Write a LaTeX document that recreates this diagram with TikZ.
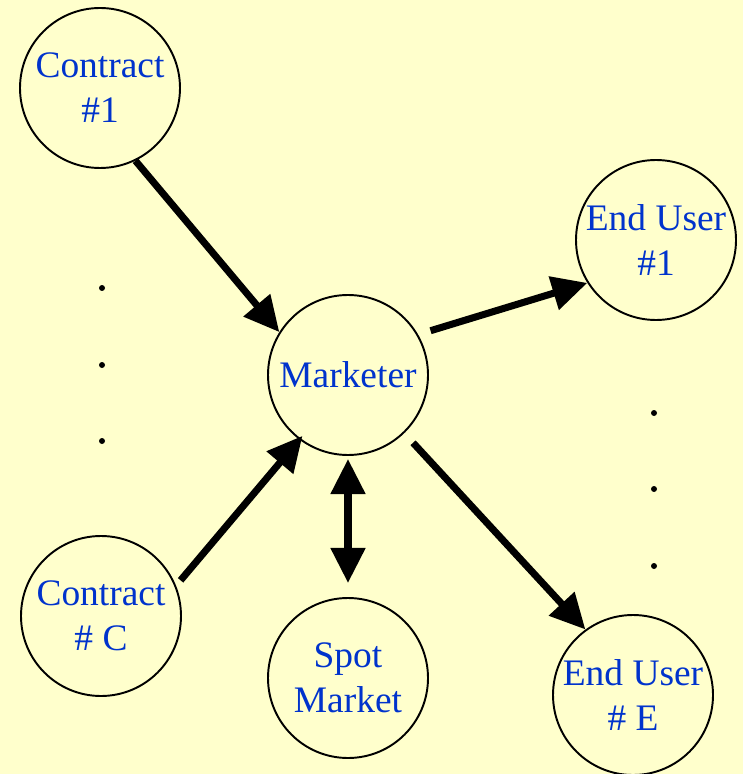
\documentclass[tikz,border=0pt]{standalone}
\usepackage{fontspec}
\setmainfont{Liberation Serif}
\usepackage{xcolor}
\usepackage{tikz}
\usetikzlibrary{
    arrows.meta
}
\definecolor{bgyellow}{HTML}{FFFFCC}
\definecolor{nameblue}{HTML}{0033CC}

\begin{document}
\begin{tikzpicture}[->,>={Triangle[length=20pt,width=19pt]},line width=4pt]
    \tikzstyle{every party}=[shape=circle, draw, line width=1.1pt, minimum size=3.2cm, inner sep=0pt, align=center, text=nameblue, font=\fontsize{21.3}{25.6}\selectfont]
    \fill [bgyellow] (0, 0) rectangle (14.86, -15.48);
    \useasboundingbox (0, 0) rectangle (14.86, -15.48);

	\node [every party] (C1) at (2.00, -1.76) {Contract\\ \#1};
	\node [every party] (CC) at (2.02, -12.32) {Contract\\ \# C};

	\node [every party] (M) at (6.96, -7.50) {Marketer};
	\node [every party] (S) at (6.96, -13.56) {Spot\\ Market};

	\node [every party] (E1) at (13.12, -4.80) {End User\\ \#1};
	\node [every party] (EE) at (12.66, -13.90) {End User\\ \# E};

	\draw (C1.296) -- (M.148);
	\draw [shorten <=0.14cm, shorten >=-0.1cm] (CC.22) -- (M.233);
	\draw [shorten <=0.26cm] (M.30) -- (E1.212);
	\draw [shorten <=0.26cm] (M.314) -- (EE.126);
	\draw [<->, shorten <=0.06cm, shorten >=0.28cm] (M.south) -- (S.north);

	\foreach \y in {-5.76, -7.30, -8.82}
	    \fill (2.04, \y) circle (0.06);
	\foreach \y in {-8.26, -9.78, -11.32}
	    \fill (13.08, \y) circle (0.06);
\end{tikzpicture}
\end{document}
